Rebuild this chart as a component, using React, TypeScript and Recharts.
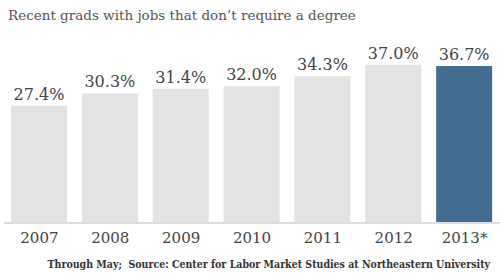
import React from "react";
import { BarChart, Bar, XAxis, YAxis, Cell, LabelList } from "recharts";

const years = ["2007", "2008", "2009", "2010", "2011", "2012", "2013*"];
const shares = [27.4, 30.3, 31.4, 32.0, 34.3, 37.0, 36.7];
const highlightYear = "2013*";

const data = years.map((year, i) => ({ year, share: shares[i] }));

const font = "'DejaVu Serif', serif";

const App: React.FC = () => {
  return (
    <div
      style={{
        position: "fixed",
        top: 0,
        left: 0,
        width: 500,
        height: 280,
        background: "#fff",
        fontFamily: font,
      }}
    >
      <div
        style={{
          position: "absolute",
          left: 8,
          top: 7,
          fontSize: 13.5,
          color: "#555",
          whiteSpace: "nowrap",
        }}
      >
        Recent grads with jobs that don’t require a degree
      </div>
      <BarChart
        width={500}
        height={280}
        data={data}
        margin={{ top: 52, right: 0, bottom: 27, left: 4 }}
      >
        <YAxis hide domain={[0, 40]} />
        <XAxis
          dataKey="year"
          height={30}
          tickLine={false}
          axisLine={{ stroke: "#dddddd", strokeWidth: 2 }}
          tick={{ fill: "#444", fontSize: 15, fontFamily: font }}
          tickMargin={3}
        />
        <Bar dataKey="share" barSize={56} isAnimationActive={false}>
          {data.map((d) => (
            <Cell
              key={d.year}
              fill={d.year === highlightYear ? "#426e91" : "#e3e3e3"}
            />
          ))}
          <LabelList
            dataKey="share"
            position="top"
            offset={6}
            formatter={(v: number) => `${v.toFixed(1)}%`}
            style={{ fill: "#444", fontSize: 16, fontFamily: font }}
          />
        </Bar>
      </BarChart>
      <div
        style={{
          position: "absolute",
          right: 10,
          top: 258,
          fontSize: 10.5,
          fontWeight: "bold",
          fontFamily: "'DejaVu Serif Condensed', 'DejaVu Serif', serif",
          color: "#333",
          whiteSpace: "nowrap",
        }}
      >
        Through May;&nbsp; Source: Center for Labor Market Studies at Northeastern University
      </div>
    </div>
  );
};

export default App;
